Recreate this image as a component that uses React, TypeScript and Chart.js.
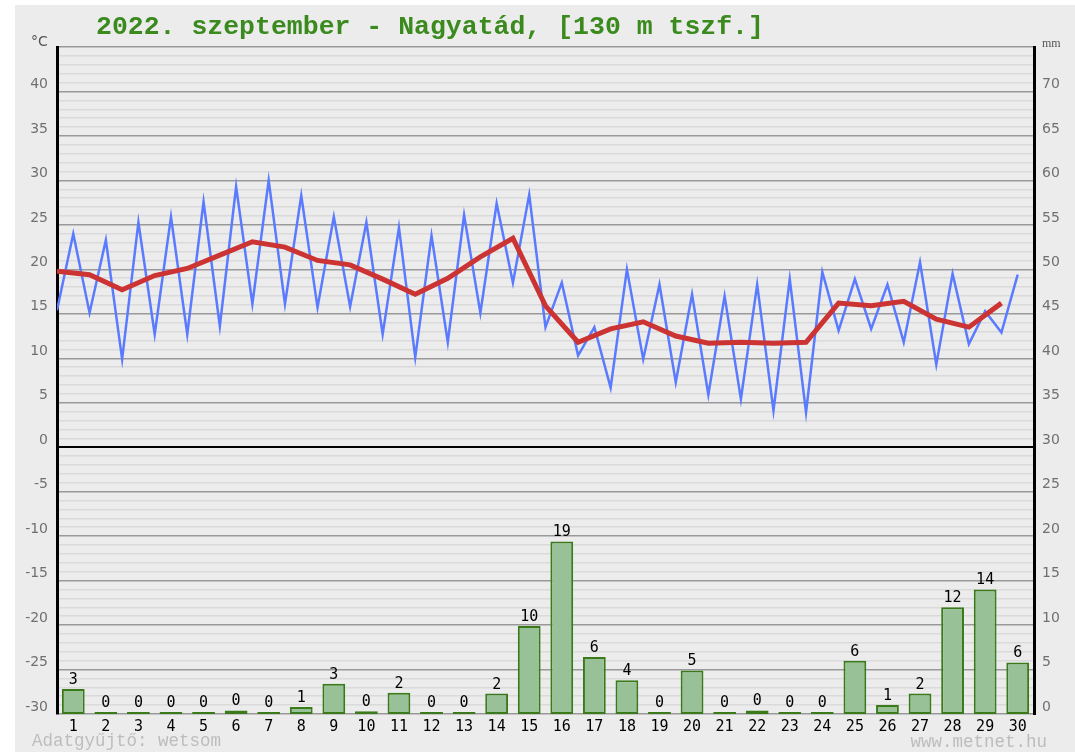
import React, { useEffect, useRef } from 'react';
import { Chart, registerables } from 'chart.js';

Chart.register(...registerables);

const titleText = '2022. szeptember - Nagyatád, [130 m tszf.]';
const leftUnit = '°C';
const rightUnit = 'mm';
const footerLeft = 'Adatgyűjtő: wetsom';
const footerRight = 'www.metnet.hu';

const dayLabels = ['1', '2', '3', '4', '5', '6', '7', '8', '9', '10', '11', '12', '13', '14', '15',
  '16', '17', '18', '19', '20', '21', '22', '23', '24', '25', '26', '27', '28', '29', '30'];

const minTemp = [15.4, 15.1, 9.9, 12.7, 12.7, 13.6, 16.1, 16.1, 15.7, 15.8, 12.7, 10.1, 11.8, 15.1, 18.5,
  13.5, 10.3, 6.7, 9.9, 7.3, 5.9, 5.4, 4.1, 3.9, 13.1, 13.3, 11.8, 9.3, 11.6, 12.9];

const maxTemp = [24.0, 23.3, 25.3, 25.9, 27.6, 29.3, 30.0, 28.3, 25.9, 25.3, 24.7, 23.8, 26.1, 27.4, 28.4,
  18.5, 13.5, 20.0, 18.3, 17.2, 17.0, 18.3, 18.9, 19.7, 18.9, 18.3, 20.8, 19.5, 15.3, 19.4];

const meanTemp = [19.8, 19.4, 17.7, 19.3, 20.1, 21.6, 23.1, 22.5, 21.0, 20.5, 18.9, 17.2, 19.0, 21.4, 23.5,
  15.9, 11.8, 13.3, 14.1, 12.5, 11.7, 11.8, 11.7, 11.8, 16.2, 15.9, 16.4, 14.4, 13.5, 16.2];

const precip = [2.8, 0, 0, 0, 0, 0.4, 0, 0.8, 3.4, 0.3, 2.4, 0, 0, 2.3, 9.9,
  19.4, 6.4, 3.8, 0, 4.9, 0, 0.4, 0, 0, 6.0, 1.0, 2.3, 12.0, 14.0, 5.8];

const tempTickLabels = [40, 35, 30, 25, 20, 15, 10, 5, 0, -5, -10, -15, -20, -25, -30];
const precipTickLabels = [0, 5, 10, 15, 20, 25, 30, 35, 40, 45, 50, 55, 60, 65, 70];

const W = 1075;
const H = 752;

const bgPlugin = {
  id: 'bgPlugin',
  beforeDraw(chart: any) {
    const ctx = chart.ctx;
    ctx.save();
    ctx.fillStyle = '#ffffff';
    ctx.fillRect(0, 0, chart.width, chart.height);
    ctx.fillStyle = '#ececec';
    ctx.fillRect(15, 5, chart.width - 15, chart.height - 5);
    ctx.restore();
  },
};

const textPlugin = {
  id: 'textPlugin',
  afterDatasetsDraw(chart: any) {
    const ctx = chart.ctx;
    const meta = chart.getDatasetMeta(2);
    ctx.save();
    ctx.font = '15px "DejaVu Sans Mono"';
    ctx.fillStyle = '#000';
    ctx.textAlign = 'center';
    ctx.textBaseline = 'alphabetic';
    meta.data.forEach((el: any, i: number) => {
      ctx.fillText(String(Math.round(precip[i])), el.x, el.y - 5);
    });
    ctx.restore();
  },
  afterDraw(chart: any) {
    const ctx = chart.ctx;
    const a = chart.chartArea;
    ctx.save();
    ctx.font = 'bold 26.5px "Liberation Mono"';
    ctx.fillStyle = '#3a8a1e';
    ctx.textAlign = 'left';
    ctx.textBaseline = 'middle';
    ctx.fillText(titleText, a.left + 39, 27);

    ctx.font = '14px "DejaVu Sans"';
    ctx.fillStyle = '#555';
    ctx.textBaseline = 'alphabetic';
    ctx.fillText(leftUnit, a.left - 26, a.top - 1);

    ctx.font = '12px "Liberation Serif"';
    ctx.fillText(rightUnit, a.right + 8, a.top);

    ctx.font = '17.5px "Liberation Mono"';
    ctx.fillStyle = '#bdbdbd';
    ctx.textAlign = 'left';
    ctx.fillText(footerLeft, a.left - 25, H - 6);
    ctx.textAlign = 'right';
    ctx.fillText(footerRight, a.right + 13, H - 5);
    ctx.restore();
  },
};

export default function App() {
  const ref = useRef<HTMLCanvasElement | null>(null);

  useEffect(() => {
    if (!ref.current) return;
    const blueData: { x: number; y: number }[] = [];
    for (let i = 0; i < dayLabels.length; i++) {
      blueData.push({ x: i, y: minTemp[i] });
      blueData.push({ x: i + 0.5, y: maxTemp[i] });
    }
    const redData = meanTemp.map((v, i) => ({ x: i, y: v }));
    const barData = precip.map((v, i) => ({ x: i + 0.5, y: v }));

    const chart = new Chart(ref.current, {
      type: 'bar',
      data: {
        datasets: [
          {
            type: 'line',
            data: blueData,
            borderColor: '#5b7bff',
            borderWidth: 2.5,
            pointRadius: 0,
            tension: 0,
            yAxisID: 'y',
            order: 1,
          } as any,
          {
            type: 'line',
            data: redData,
            borderColor: '#cc3333',
            borderWidth: 5,
            pointRadius: 0,
            tension: 0,
            yAxisID: 'y',
            order: 0,
          } as any,
          {
            type: 'bar',
            data: barData,
            backgroundColor: '#98c198',
            borderColor: '#3a7a1a',
            borderWidth: 2,
            borderSkipped: false,
            minBarLength: 2,
            barPercentage: 0.7,
            categoryPercentage: 1,
            yAxisID: 'y2',
            order: 2,
          } as any,
        ],
      },
      options: {
        responsive: false,
        animation: false,
        devicePixelRatio: 1,
        layout: { padding: { top: 47, left: 0, right: 0, bottom: 0 } },
        plugins: {
          legend: { display: false },
          tooltip: { enabled: false },
          title: { display: false },
        },
        scales: {
          x: {
            type: 'linear',
            min: 0,
            max: 30,
            offset: false,
            grid: { display: false, drawTicks: false, offset: false },
            border: { display: false },
            afterBuildTicks: (s: any) => {
              s.ticks = dayLabels.map((_, i) => ({ value: i + 0.5 }));
            },
            afterFit: (s: any) => {
              s.height = 38;
            },
            ticks: {
              autoSkip: false,
              maxRotation: 0,
              minRotation: 0,
              padding: 4,
              color: '#000',
              font: { family: '"DejaVu Sans Mono"', size: 15 },
              callback: (_v: any, i: number) => dayLabels[i],
            },
          },
          y: {
            type: 'linear',
            position: 'left',
            min: -30,
            max: 45,
            afterBuildTicks: (s: any) => {
              const t = [];
              for (let v = -30; v <= 45; v++) t.push({ value: v });
              s.ticks = t;
            },
            afterFit: (s: any) => {
              s.width = 57;
            },
            grid: {
              drawTicks: false,
              color: (c: any) => {
                const v = c.tick ? c.tick.value : 1;
                if (v === 0) return '#000';
                if (v % 5 === 0) return '#999';
                return '#dadada';
              },
              lineWidth: (c: any) => {
                const v = c.tick ? c.tick.value : 1;
                if (v === 0) return 2;
                return 1.5;
              },
            },
            border: { display: true, color: '#000', width: 3 },
            ticks: {
              autoSkip: false,
              padding: 9,
              labelOffset: -7,
              color: '#707070',
              font: { family: '"DejaVu Sans"', size: 14 },
              callback: (v: any) => (tempTickLabels.includes(v) ? String(v) : ''),
            },
          },
          y2: {
            type: 'linear',
            position: 'right',
            min: 0,
            max: 75,
            afterBuildTicks: (s: any) => {
              s.ticks = precipTickLabels.map((v) => ({ value: v }));
            },
            afterFit: (s: any) => {
              s.width = 41;
            },
            grid: { display: false, drawTicks: false },
            border: { display: true, color: '#000', width: 3 },
            ticks: {
              autoSkip: false,
              padding: 8,
              labelOffset: -7,
              color: '#707070',
              font: { family: '"DejaVu Sans"', size: 14 },
              callback: (v: any) => String(v),
            },
          },
        },
      } as any,
      plugins: [bgPlugin, textPlugin],
    });
    return () => chart.destroy();
  }, []);

  return (
    <div style={{ position: 'fixed', left: 0, top: 0, width: W, height: H, background: '#fff' }}>
      <canvas ref={ref} width={W} height={H} style={{ display: 'block', width: W, height: H }} />
    </div>
  );
}
